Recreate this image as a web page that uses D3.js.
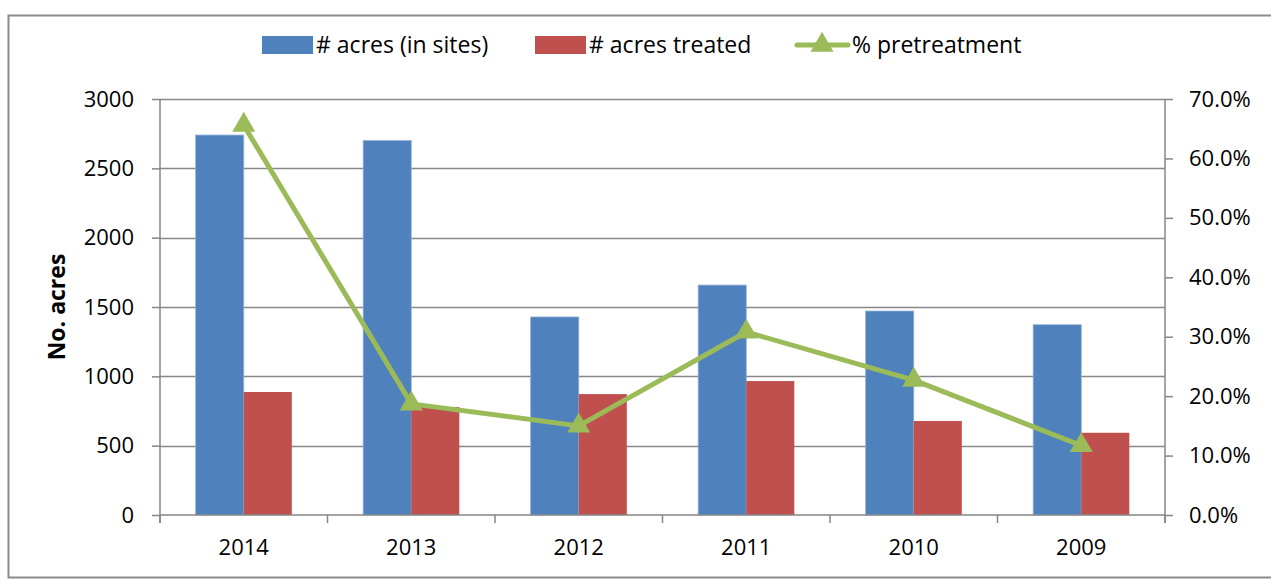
<!DOCTYPE html>
<html>
<head>
<meta charset="utf-8">
<script src="https://cdn.jsdelivr.net/npm/d3@7"></script>
<style>
  body { margin: 0; background: #fff; }
  text { font-family: "Open Sans", Lato, sans-serif; fill: #000; }
</style>
</head>
<body>
<div id="chart"></div>
<script>
// data
var years = ['2014', '2013', '2012', '2011', '2010', '2009'];
var acresInSites = [2740, 2700, 1428, 1658, 1471, 1372];
var acresTreated = [887, 779, 872, 966, 678, 593];
var pctPretreatment = [65.6, 18.7, 15.0, 30.8, 22.7, 11.7];
var leftTicks = [0, 500, 1000, 1500, 2000, 2500, 3000];
var rightTicks = [0, 10, 20, 30, 40, 50, 60, 70];

var W = 1271, H = 581;
var margin = {left: 160, right: 106, top: 99, bottom: 66};
var tickFont = '22px';
var legendFont = '23px';

var svg = d3.select('#chart').append('svg')
    .attr('width', W)
    .attr('height', H);

// chart frame
svg.append('rect')
    .attr('x', 8.5).attr('y', 15.5)
    .attr('width', W + 10).attr('height', 562)
    .attr('fill', 'none')
    .attr('stroke', '#8c8c8c')
    .attr('stroke-width', 2);

var x = d3.scaleBand()
    .domain(years)
    .range([margin.left, W - margin.right]);

var y = d3.scaleLinear()
    .domain([0, 3000])
    .range([H - margin.bottom, margin.top]);

var y2 = d3.scaleLinear()
    .domain([0, 70])
    .range([H - margin.bottom, margin.top]);

// gridlines
svg.append('g')
    .selectAll('line')
    .data(leftTicks.slice(1))
    .enter().append('line')
    .attr('x1', margin.left).attr('x2', W - margin.right)
    .attr('y1', d => Math.round(y(d)) + 0.5)
    .attr('y2', d => Math.round(y(d)) + 0.5)
    .attr('stroke', '#888')
    .attr('stroke-width', 1.5);

// bars
var inner = x.bandwidth() * 0.574;
var bx = d3.scaleBand()
    .domain(['sites', 'treated'])
    .range([0, inner]);

var groups = svg.append('g')
    .selectAll('g')
    .data(years)
    .enter().append('g')
    .attr('transform', d => 'translate(' + (x(d) + (x.bandwidth() - inner) / 2) + ',0)');

groups.append('rect')
    .attr('x', bx('sites'))
    .attr('width', bx.bandwidth())
    .attr('y', (d, i) => y(acresInSites[i]))
    .attr('height', (d, i) => y(0) - y(acresInSites[i]))
    .attr('fill', '#4f81bd')
    .attr('stroke', '#8fb0d8')
    .attr('stroke-width', 0.8);

groups.append('rect')
    .attr('x', bx('treated'))
    .attr('width', bx.bandwidth())
    .attr('y', (d, i) => y(acresTreated[i]))
    .attr('height', (d, i) => y(0) - y(acresTreated[i]))
    .attr('fill', '#c0504d');

// axes
var axisColor = '#868686';
var gl = svg.append('g')
    .attr('transform', 'translate(' + margin.left + ',0)')
    .call(d3.axisLeft(y).tickValues(leftTicks).tickSize(8).tickPadding(18).tickFormat(d3.format('d')));

var gr = svg.append('g')
    .attr('transform', 'translate(' + (W - margin.right) + ',0)')
    .call(d3.axisRight(y2).tickValues(rightTicks).tickSize(8).tickPadding(16)
        .tickFormat(d => d.toFixed(1) + '%'));

var gb = svg.append('g')
    .attr('transform', 'translate(0,' + y(0) + ')')
    .call(d3.axisBottom(x).tickSize(0).tickPadding(24));

// category boundary ticks
svg.append('g')
    .selectAll('line')
    .data(years.concat(['end']))
    .enter().append('line')
    .attr('x1', (d, i) => i < years.length ? x(d) : W - margin.right)
    .attr('x2', (d, i) => i < years.length ? x(d) : W - margin.right)
    .attr('y1', y(0)).attr('y2', y(0) + 8)
    .attr('stroke', axisColor)
    .attr('stroke-width', 1.5);

[gl, gr, gb].forEach(function(g) {
    g.selectAll('path.domain').attr('stroke', axisColor).attr('stroke-width', 1.5);
    g.selectAll('.tick line').attr('stroke', axisColor).attr('stroke-width', 1.5);
    g.selectAll('.tick text')
        .style('font-family', '"Open Sans", Lato, sans-serif')
        .style('font-size', tickFont)
        .attr('fill', '#000');
});
gr.select('path.domain').attr('d', 'M0,' + y2(70) + 'V' + (y2(0) + 8));
gl.select('path.domain').attr('d', 'M0,' + y(3000) + 'V' + (y(0) + 8));
gb.select('path.domain').attr('d', 'M' + margin.left + ',0H' + (W - margin.right));

// y title
svg.append('text')
    .attr('transform', 'translate(65,307) rotate(-90)')
    .attr('text-anchor', 'middle')
    .style('font-size', '23px')
    .style('font-weight', 'bold')
    .text('No. acres');

// pretreatment line
var green = '#9bbb59';
var line = d3.line()
    .x((d, i) => x(years[i]) + x.bandwidth() / 2)
    .y(d => y2(d));

svg.append('path')
    .datum(pctPretreatment)
    .attr('d', line)
    .attr('fill', 'none')
    .attr('stroke', green)
    .attr('stroke-width', 5)
    .attr('stroke-linejoin', 'round');

var tri = d3.symbol().type(d3.symbolTriangle).size(230);
svg.append('g')
    .selectAll('path')
    .data(pctPretreatment)
    .enter().append('path')
    .attr('d', tri)
    .attr('transform', (d, i) => 'translate(' + (x(years[i]) + x.bandwidth() / 2) + ',' + y2(d) + ')')
    .attr('fill', green);

// legend
var legend = svg.append('g').attr('transform', 'translate(0,45)');
legend.append('rect').attr('x', 262).attr('y', -9).attr('width', 51).attr('height', 18).attr('fill', '#4f81bd');
legend.append('text').attr('x', 316).attr('y', 8).style('font-size', legendFont).text('# acres (in sites)');
legend.append('rect').attr('x', 535).attr('y', -9).attr('width', 51).attr('height', 18).attr('fill', '#c0504d');
legend.append('text').attr('x', 589).attr('y', 8).style('font-size', legendFont).text('# acres treated');
legend.append('line').attr('x1', 797).attr('x2', 848).attr('y1', 0).attr('y2', 0)
    .attr('stroke', green).attr('stroke-width', 5).attr('stroke-linecap', 'round');
legend.append('path').attr('d', tri).attr('transform', 'translate(822,0)').attr('fill', green);
legend.append('text').attr('x', 852).attr('y', 8).style('font-size', legendFont).text('% pretreatment');
</script>
</body>
</html>
